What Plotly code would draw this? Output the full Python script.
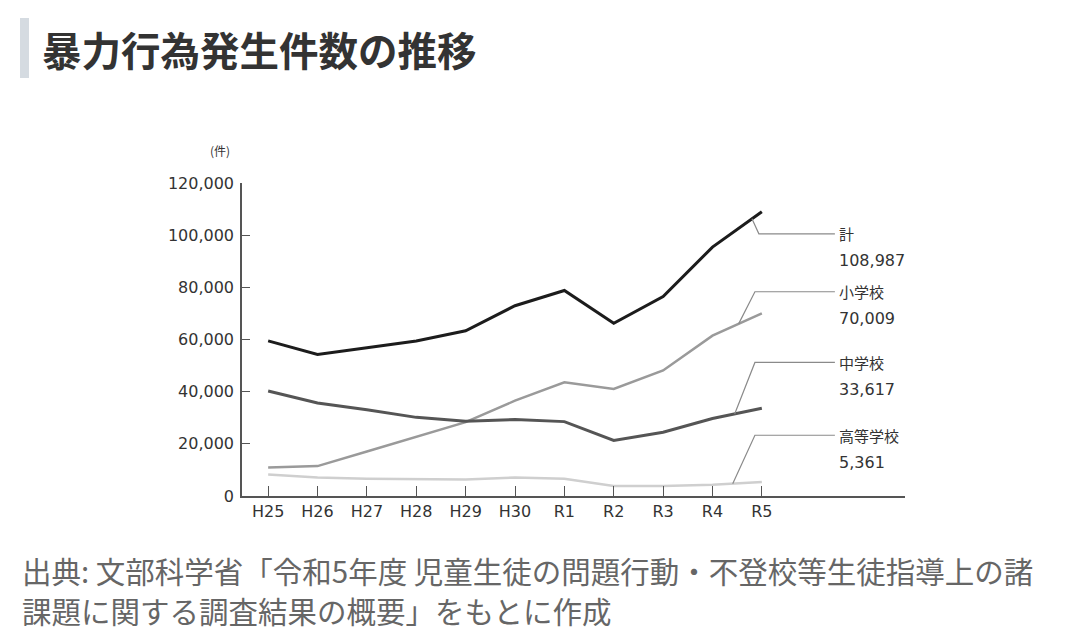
import plotly.graph_objects as go

years = ["H25", "H26", "H27", "H28", "H29", "H30", "R1", "R2", "R3", "R4", "R5"]
total = [59457, 54246, 56806, 59444, 63325, 72940, 78787, 66201, 76441, 95426, 108987]
elementary = [10896, 11472, 17078, 22841, 28315, 36536, 43614, 41056, 48138, 61455, 70009]
junior_high = [40246, 35683, 33073, 30148, 28702, 29320, 28518, 21293, 24450, 29699, 33617]
high_school = [8203, 7091, 6655, 6455, 6308, 7084, 6655, 3852, 3853, 4272, 5361]

series_names = ["計", "小学校", "中学校", "高等学校"]
series_values = [total, elementary, junior_high, high_school]
line_colors = ["#1c1c1c", "#9a9a9a", "#555555", "#cfcfcf"]
line_widths = [3, 2.5, 3, 2.5]

# leader lines: where they leave the line (x index), the level of the label
leader_start_x = [9.80, 9.53, 9.45, 9.41]
leader_bend_x = [9.94, 9.86, 9.86, 9.86]
label_level = [100500, 78300, 51200, 23300]

caption_lines = ["出典: 文部科学省「令和5年度 児童生徒の問題行動・不登校等生徒指導上の諸",
                 "課題に関する調査結果の概要」をもとに作成"]

FONT = "DejaVu Sans, Noto Sans CJK JP"
JP = "Noto Sans CJK JP"
OFF = 8  # page body margin
x = list(range(len(years)))

fig = go.Figure()
for name, vals, col, w in zip(series_names, series_values, line_colors, line_widths):
    fig.add_trace(go.Scatter(x=x, y=vals, mode="lines", name=name,
                             line=dict(color=col, width=w), showlegend=False))

for name, vals, sx, bx, lv in zip(series_names, series_values, leader_start_x,
                                  leader_bend_x, label_level):
    i = int(sx)
    sy = vals[i] + (vals[i + 1] - vals[i]) * (sx - i)
    fig.add_trace(go.Scatter(x=[sx, bx, 11.48], y=[sy, lv, lv], mode="lines",
                             line=dict(color="#8a8a8a", width=1.2),
                             showlegend=False, hoverinfo="skip"))
    fig.add_annotation(x=11.52, y=lv, xref="x", yref="y", xanchor="left",
                       yanchor="middle", showarrow=False, align="left",
                       text=name, font=dict(family=JP, size=15, color="#333"))
    fig.add_annotation(x=11.52, y=lv - 10300, xref="x", yref="y", xanchor="left",
                       yanchor="middle", showarrow=False, align="left",
                       text=f"{vals[-1]:,}", font=dict(family=FONT, size=16, color="#333"))

fig.update_xaxes(range=[-0.53, 12.9], tickvals=x, ticktext=years,
                 showgrid=False, zeroline=False, showline=True,
                 linecolor="#555", linewidth=1.5, ticks="inside", ticklen=10,
                 tickwidth=1.3, tickcolor="#555",
                 tickfont=dict(family=FONT, size=16, color="#333"))
fig.update_yaxes(range=[0, 120000], tickvals=[0, 20000, 40000, 60000, 80000, 100000, 120000],
                 tickformat=",", showgrid=False, zeroline=False, showline=True,
                 linecolor="#555", linewidth=1.5, ticks="inside", ticklen=8,
                 tickwidth=1.3, tickcolor="#555", ticklabelstandoff=3,
                 tickfont=dict(family=FONT, size=16, color="#333"))

ML, MR, MT, MB = 242 - OFF, 1080 - (905 - OFF), 183 - OFF, 639 - (496 - OFF)
fig.update_layout(
    width=1080, height=639,
    margin=dict(l=ML, r=MR, t=MT, b=MB),
    plot_bgcolor="white", paper_bgcolor="white",
)

# paper coords from screenshot pixels
def px_x(v):
    return (v - OFF - ML) / (1080 - ML - MR)

def px_y(v):
    return (639 - MB - (v - OFF)) / (639 - MT - MB)

fig.add_annotation(x=px_x(220), y=px_y(150), xref="paper", yref="paper",
                   xanchor="center", yanchor="middle", showarrow=False, text="(件)",
                   font=dict(family=JP, size=12, color="#333"))
fig.add_shape(type="rect", xref="paper", yref="paper",
              x0=px_x(20), x1=px_x(29), y0=px_y(78), y1=px_y(18),
              fillcolor="#d5dbe1", line_width=0)
fig.add_annotation(x=px_x(40), y=px_y(48), xref="paper", yref="paper",
                   xanchor="left", yanchor="middle", showarrow=False,
                   text="<b>暴力行為発生件数の推移</b>",
                   font=dict(family=JP, size=39.5, color="#333"))
for line, cy in zip(caption_lines, [570, 610]):
    fig.add_annotation(x=px_x(20), y=px_y(cy), xref="paper", yref="paper",
                       xanchor="left", yanchor="middle", showarrow=False, align="left",
                       text=line, font=dict(family=JP, size=29.5, color="#666"))

fig.write_html("out.html")
